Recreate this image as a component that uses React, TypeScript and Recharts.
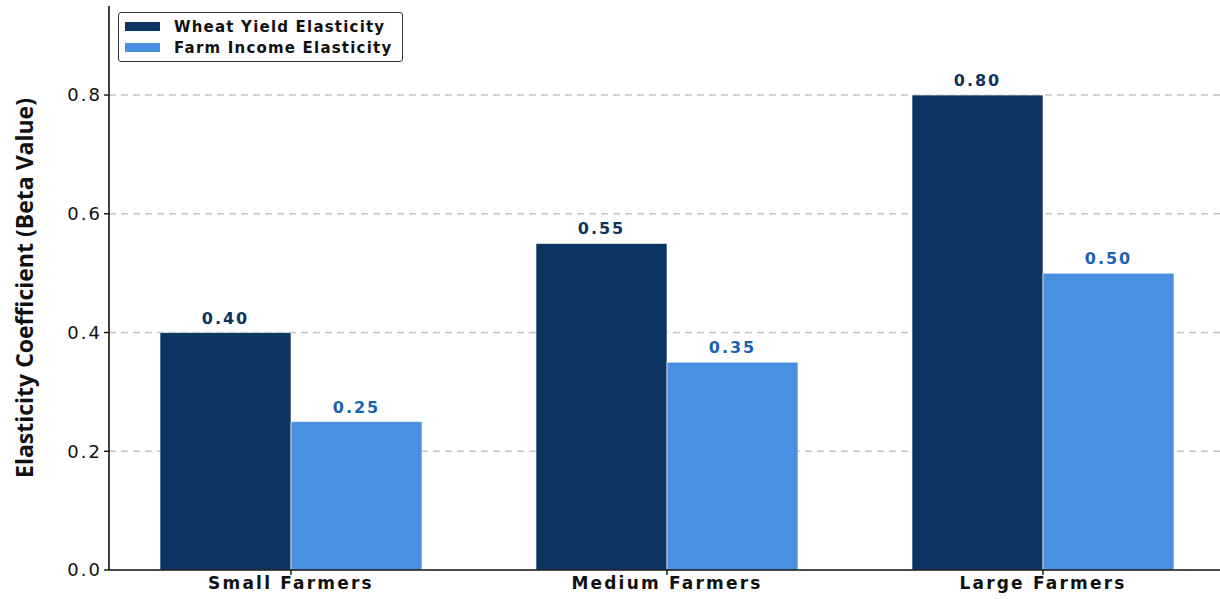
import { Bar, BarChart, CartesianGrid, LabelList, XAxis, YAxis } from 'recharts'

const categories = ['Small Farmers', 'Medium Farmers', 'Large Farmers']
const wheatYield = [0.4, 0.55, 0.8]
const farmIncome = [0.25, 0.35, 0.5]
const yTicks = [0, 0.2, 0.4, 0.6, 0.8]
const gridValues = [0.2, 0.4, 0.6, 0.8]

const DARK = '#0c3561'
const LIGHT = '#4a90e2'

const data = categories.map((name, i) => ({ name, wheat: wheatYield[i], income: farmIncome[i] }))

const tickFont = { fontFamily: 'DejaVu Sans', fill: '#111' }

function LegendBox() {
  const items = [
    { label: 'Wheat Yield Elasticity', color: DARK },
    { label: 'Farm Income Elasticity', color: LIGHT },
  ]
  return (
    <div
      style={{
        position: 'absolute',
        left: 118,
        top: 12,
        border: '1px solid #333',
        borderRadius: 3,
        background: '#fff',
        width: 277,
        padding: '3px 0 3px 6px',
        fontFamily: 'DejaVu Sans',
        fontWeight: 'bold',
        fontSize: 15,
        letterSpacing: 1.2,
        color: '#111',
      }}
    >
      {items.map((it) => (
        <div key={it.label} style={{ display: 'flex', alignItems: 'center', height: 21 }}>
          <span style={{ width: 35, height: 9, background: it.color, display: 'inline-block', marginRight: 14 }} />
          {it.label}
        </div>
      ))}
    </div>
  )
}

export default function App() {
  return (
    <div style={{ position: 'absolute', left: 0, top: 0, width: 1220, height: 599, overflow: 'hidden', background: '#fff' }}>
      <BarChart
        width={1230}
        height={599}
        data={data}
        margin={{ top: 6, right: 4, bottom: 0, left: 0 }}
        barGap={0}
      >
        <CartesianGrid
          vertical={false}
          horizontalValues={gridValues}
          stroke="#c4c4c4"
          strokeWidth={1.4}
          strokeDasharray="7 5"
        />
        <XAxis
          dataKey="name"
          height={29}
          padding={{ left: -6, right: -5 }}
          axisLine={{ stroke: '#111', strokeWidth: 1.6 }}
          tickLine={{ stroke: '#111', strokeWidth: 1.4 }}
          tickSize={5}
          tick={{ ...tickFont, fontSize: 17, fontWeight: 'bold', letterSpacing: 2.2 }}
          interval={0}
        />
        <YAxis
          width={109}
          domain={[0, 0.95]}
          ticks={yTicks}
          tickFormatter={(v: number) => v.toFixed(1)}
          axisLine={{ stroke: '#111', strokeWidth: 1.6 }}
          tickLine={{ stroke: '#111', strokeWidth: 1.4 }}
          tickSize={5}
          tick={{ ...tickFont, fontSize: 18, letterSpacing: 2 }}
          label={{
            value: 'Elasticity Coefficient (Beta Value)',
            angle: -90,
            position: 'center',
            dx: -30,
            style: { fontFamily: 'Open Sans', fontWeight: 'bold', fontSize: 23, fill: '#111' },
          }}
        />
        <Bar dataKey="wheat" name="Wheat Yield Elasticity" fill={DARK} stroke="#ffffff" strokeWidth={0.6} barSize={131} isAnimationActive={false}>
          <LabelList
            dataKey="wheat"
            position="top"
            offset={9}
            formatter={(v: number) => v.toFixed(2)}
            style={{ fontFamily: 'DejaVu Sans', fontWeight: 'bold', fontSize: 16, letterSpacing: 2, fill: '#0d3461' }}
          />
        </Bar>
        <Bar dataKey="income" name="Farm Income Elasticity" fill={LIGHT} stroke="#ffffff" strokeWidth={0.6} barSize={131} isAnimationActive={false}>
          <LabelList
            dataKey="income"
            position="top"
            offset={9}
            formatter={(v: number) => v.toFixed(2)}
            style={{ fontFamily: 'DejaVu Sans', fontWeight: 'bold', fontSize: 16, letterSpacing: 2, fill: '#1a62b3' }}
          />
        </Bar>
      </BarChart>
      <LegendBox />
    </div>
  )
}
